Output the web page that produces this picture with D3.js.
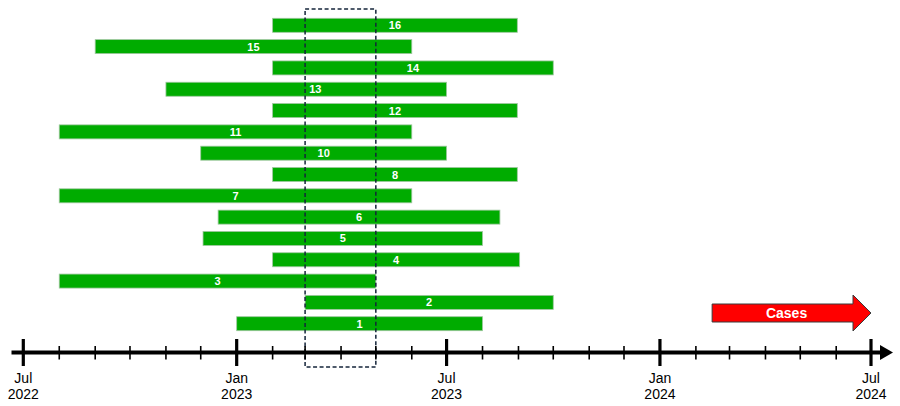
<!DOCTYPE html>
<html>
<head>
<meta charset="utf-8">
<script src="https://cdn.jsdelivr.net/npm/d3@7"></script>
<style>
  html, body { margin: 0; padding: 0; background: #fff; }
  .rotulo-barra { font-family: Arial, "Liberation Sans", sans-serif; font-weight: bold; font-size: 11px; fill: #fff; }
  .rotulo-eixo { font-family: "Liberation Sans", Arial, sans-serif; font-size: 14px; fill: #000; }
  .rotulo-seta { font-family: Arial, "Liberation Sans", sans-serif; font-weight: bold; font-size: 14px; fill: #fff; }
</style>
</head>
<body>
<svg id="grafico"></svg>
<script>
// casos, de cima para baixo
const casos = ['16', '15', '14', '13', '12', '11', '10', '8', '7', '6', '5', '4', '3', '2', '1'];
const inicios = ['2023-02-01', '2022-09-01', '2023-02-01', '2022-11-01', '2023-02-01', '2022-08-01', '2022-12-01',
                 '2023-02-01', '2022-08-01', '2022-12-16', '2022-12-03', '2023-02-01', '2022-08-01', '2023-03-01', '2023-01-01'];
const fins = ['2023-08-31', '2023-06-01', '2023-10-01', '2023-07-01', '2023-08-31', '2023-06-01', '2023-07-01',
              '2023-08-31', '2023-06-01', '2023-08-16', '2023-08-01', '2023-09-02', '2023-05-01', '2023-10-01', '2023-08-01'];

// periodo do eixo, janela tracejada e seta "Cases"
const periodo = ['2022-07-01', '2024-07-01'];
const janela = ['2023-03-01', '2023-05-01'];
const seta = ['2024-02-15', '2024-07-01'];
const textoSeta = 'Cases';

const largura = 900, altura = 406;
const converteData = d3.timeParse('%Y-%m-%d');
const formataMes = d3.timeFormat('%b');
const formataAno = d3.timeFormat('%Y');

const svg = d3.select('#grafico').attr('width', largura).attr('height', altura);

const x = d3.scaleTime()
    .domain(periodo.map(converteData))
    .range([23.3, 871]);

const y = d3.scalePoint()
    .domain(casos)
    .range([25.3, 323.7]);

const alturaBarra = 14;
const eixoY = 352.5;

const dados = casos.map((c, i) => ({ caso: c, inicio: converteData(inicios[i]), fim: converteData(fins[i]) }));

// barras
svg.append('g').selectAll('rect')
    .data(dados)
    .join('rect')
    .attr('x', d => x(d.inicio))
    .attr('y', d => y(d.caso) - alturaBarra / 2)
    .attr('width', d => x(d.fim) - x(d.inicio))
    .attr('height', alturaBarra)
    .attr('fill', '#00ac00')
    .attr('stroke', '#9fc79f')
    .attr('stroke-width', 0.8);

// rotulos das barras (o 13 fica um pouco deslocado no original)
const ajuste = { '13': 9 };
svg.append('g').selectAll('text')
    .data(dados)
    .join('text')
    .classed('rotulo-barra', true)
    .attr('x', d => (x(d.inicio) + x(d.fim)) / 2 + (ajuste[d.caso] || 0))
    .attr('y', d => y(d.caso) + 4)
    .attr('text-anchor', 'middle')
    .text(d => d.caso);

// janela tracejada
svg.append('rect')
    .attr('x', x(converteData(janela[0])))
    .attr('y', 9)
    .attr('width', x(converteData(janela[1])) - x(converteData(janela[0])))
    .attr('height', 367 - 9)
    .attr('fill', 'none')
    .attr('stroke', '#14243a')
    .attr('stroke-width', 1.5)
    .attr('stroke-dasharray', '4,2.5');

// eixo do tempo
const eixo = svg.append('g');
eixo.append('line')
    .attr('x1', 11.5).attr('x2', 882)
    .attr('y1', eixoY).attr('y2', eixoY)
    .attr('stroke', '#000').attr('stroke-width', 4);
eixo.append('path')
    .attr('d', `M880,${eixoY - 7.5} L893,${eixoY} L880,${eixoY + 7.5} Z`)
    .attr('fill', '#000');

const meses = d3.timeMonth.range(x.domain()[0], d3.timeDay.offset(x.domain()[1], 1));
const principal = d => d.getMonth() % 6 === 0;

eixo.selectAll('.marca')
    .data(meses)
    .join('line')
    .classed('marca', true)
    .attr('x1', d => x(d)).attr('x2', d => x(d))
    .attr('y1', d => principal(d) ? eixoY - 13.5 : eixoY - 6.5)
    .attr('y2', d => principal(d) ? eixoY + 13.5 : eixoY + 7)
    .attr('stroke', '#000')
    .attr('stroke-width', d => principal(d) ? 3.2 : 1.6);

// rotulos do eixo: mes e ano em linhas separadas
const marcasPrincipais = meses.filter(principal);
eixo.selectAll('.rotulo-mes')
    .data(marcasPrincipais)
    .join('text')
    .attr('class', 'rotulo-eixo rotulo-mes')
    .attr('text-anchor', 'middle')
    .attr('x', d => x(d))
    .attr('y', 382.5)
    .text(d => formataMes(d));
eixo.selectAll('.rotulo-ano')
    .data(marcasPrincipais)
    .join('text')
    .attr('class', 'rotulo-eixo rotulo-ano')
    .attr('text-anchor', 'middle')
    .attr('x', d => x(d))
    .attr('y', 399)
    .text(d => formataAno(d));

// seta "Cases"
const sx0 = x(converteData(seta[0])), sx1 = x(converteData(seta[1]));
const cabeca = 18, meiaCorpo = 9, meiaCabeca = 18, sy = 313;
svg.append('path')
    .attr('d', `M${sx0},${sy - meiaCorpo} L${sx1 - cabeca},${sy - meiaCorpo} L${sx1 - cabeca},${sy - meiaCabeca}
                L${sx1},${sy} L${sx1 - cabeca},${sy + meiaCabeca} L${sx1 - cabeca},${sy + meiaCorpo} L${sx0},${sy + meiaCorpo} Z`)
    .attr('fill', '#ff0000')
    .attr('stroke', '#3a3a3a')
    .attr('stroke-width', 1);
svg.append('text')
    .classed('rotulo-seta', true)
    .attr('x', (sx0 + sx1 - cabeca) / 2 + 4)
    .attr('y', sy + 5)
    .attr('text-anchor', 'middle')
    .text(textoSeta);
</script>
</body>
</html>
